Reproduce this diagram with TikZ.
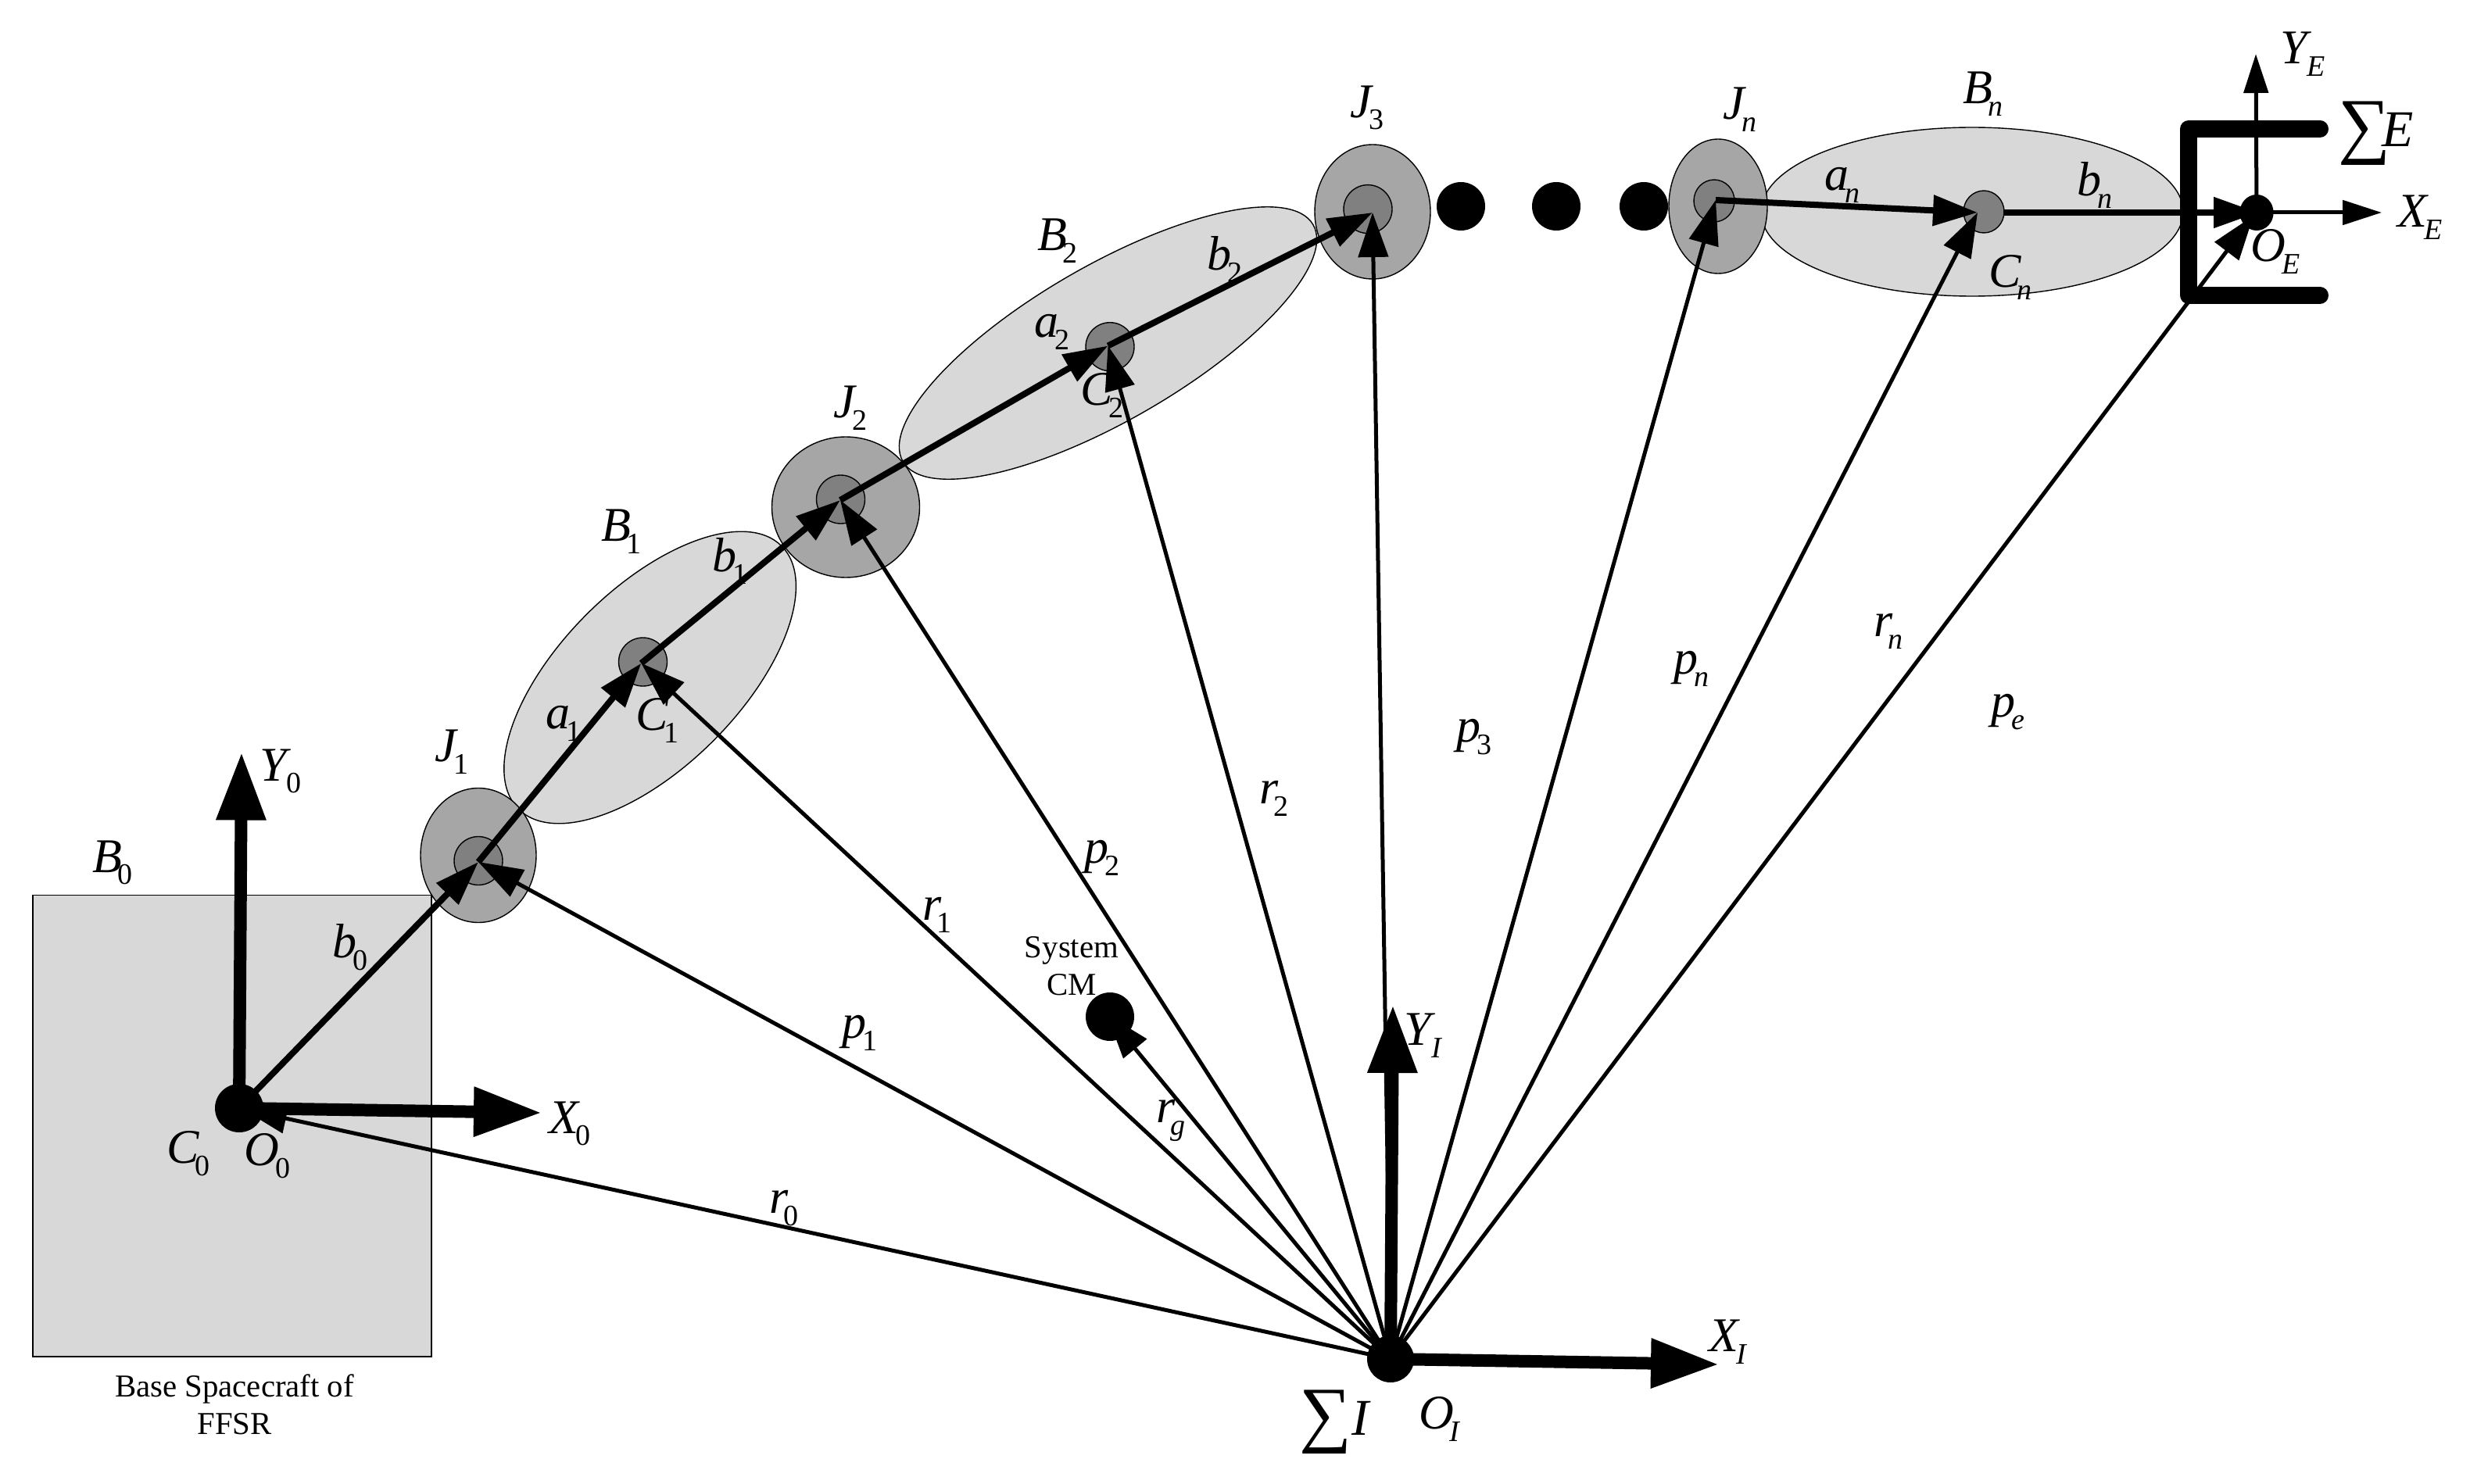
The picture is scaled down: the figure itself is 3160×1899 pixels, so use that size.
\documentclass[tikz,border=0pt]{standalone}
\usepackage{fontspec}
\setmainfont{Liberation Serif}
\usetikzlibrary{shapes.geometric,arrows.meta}
\definecolor{bodygrey}{HTML}{D8D8D8}
\definecolor{jointgrey}{HTML}{A6A6A6}
\definecolor{coregrey}{HTML}{808080}
\newcommand{\lbl}[2]{{\fontsize{31}{31}\selectfont\textit{#1}\kern-0.09em\raisebox{-0.25em}{\fontsize{19}{19}\selectfont #2}}}
\newcommand{\ii}[1]{\textit{#1}}
\tikzset{
  bodyshape/.style={ellipse,draw=black,line width=.7pt,fill=bodygrey,inner sep=0pt},
  jointshape/.style={ellipse,draw=black,line width=.7pt,fill=jointgrey,inner sep=0pt},
  coreshape/.style={ellipse,draw=black,line width=.7pt,fill=coregrey,inner sep=0pt},
  dotshape/.style={ellipse,fill=black,inner sep=0pt},
  txt/.style={inner sep=0pt,align=center},
  caption/.style={inner sep=0pt,align=center,font=\fontsize{20.4}{24}\selectfont},
  radial/.style={line width=2.5pt,-{Triangle[length=28.5pt,width=19pt]}},
  linkvec/.style={line width=4pt,-{Triangle[length=28.5pt,width=19pt]}},
  bigaxis/.style={line width=8pt,-{Triangle[length=43.5pt,width=30pt]}},
  smallaxis/.style={line width=2.5pt,-{Triangle[length=25pt,width=15.5pt]}}
}
\begin{document}
\begin{tikzpicture}[x=0.5pt,y=-0.5pt]
\useasboundingbox (0,0) rectangle (3160,1899);
% base
\node[draw=black,line width=.7pt,fill=bodygrey,minimum width=255pt,minimum height=295.25pt,inner sep=0pt] (base) at (297,1440.75) {};
% links
\node[bodyshape,minimum width=238pt,minimum height=114.5pt,rotate=45] (B1) at (831.6,867) {};
\node[bodyshape,minimum width=303pt,minimum height=99.3pt,rotate=30] (B2) at (1417.5,439) {};
\node[bodyshape,minimum width=270pt,minimum height=108pt] (Bn) at (2523,271) {};
% joints
\node[jointshape,minimum width=74pt,minimum height=86pt] (J1) at (612,1094.5) {};
\node[jointshape,minimum width=94.5pt,minimum height=90pt] (J2) at (1082,649) {};
\node[jointshape,minimum width=74pt,minimum height=86pt] (J3) at (1756,271) {};
\node[jointshape,minimum width=63pt,minimum height=86pt] (Jn) at (2198,264) {};
% cores
\node[coreshape,minimum width=31pt,minimum height=31pt] (J1c) at (612,1101.5) {};
\node[coreshape,minimum width=31pt,minimum height=31pt] (J2c) at (1075.5,639) {};
\node[coreshape,minimum width=31pt,minimum height=31pt] (J3c) at (1750,267.6) {};
\node[coreshape,minimum width=26pt,minimum height=27pt] (Jnc) at (2193,257) {};
\node[coreshape,minimum width=31pt,minimum height=31pt] (C1) at (822.5,847) {};
\node[coreshape,minimum width=31pt,minimum height=31pt] (C2) at (1420,443.7) {};
\node[coreshape,minimum width=26pt,minimum height=27pt] (Cn) at (2538,271) {};
% tips and free ends
\coordinate (tJ1) at (612,1103);
\coordinate (tJ2) at (1075,640);
\coordinate (tJ3) at (1756,272);
\coordinate (tJn) at (2195,256);
\coordinate (tC1) at (820.4,848.7);
\coordinate (tC2) at (1417.5,442.5);
\coordinate (tCn) at (2530,272);
\coordinate (sCn) at (2563,272);
\coordinate (tE) at (2889,272);
\coordinate (tOE) at (2883,276);
\coordinate (tO0) at (310,1419);
\coordinate (tCM) at (1416,1298);
\coordinate (tY0) at (309,962.5);
\coordinate (tX0) at (693,1424);
\coordinate (tYI) at (1782,1286);
\coordinate (tXI) at (2199,1746);
\coordinate (tYE) at (2886,69);
\coordinate (tXE) at (3047,272);
\coordinate (OEc) at (2887,272);
\coordinate (O0c) at (306,1418);
\coordinate (OIc) at (1779,1739);
% link vectors
\draw[linkvec] (O0c) -- (tJ1);
\draw[linkvec] (tJ1) -- (tC1);
\draw[linkvec] (tC1) -- (tJ2);
\draw[linkvec] (tJ2) -- (tC2);
\draw[linkvec] (tC2) -- (tJ3);
\draw[linkvec] (tJn) -- (tCn);
\draw[linkvec] (sCn) -- (tE);
% radial vectors
\draw[radial] (OIc) -- (tO0);
\draw[radial] (OIc) -- (tJ1);
\draw[radial] (OIc) -- (tC1);
\draw[radial] (OIc) -- (tJ2);
\draw[radial] (OIc) -- (tC2);
\draw[radial] (OIc) -- (tJ3);
\draw[radial] (OIc) -- (tJn);
\draw[radial] (OIc) -- (tCn);
\draw[radial] (OIc) -- (tOE);
\draw[radial] (OIc) -- (tCM);
% axes
\draw[bigaxis] (O0c) -- (tY0);
\draw[bigaxis] (O0c) -- (tX0);
\draw[bigaxis] (OIc) -- (tYI);
\draw[bigaxis] (OIc) -- (tXI);
\draw[smallaxis] (OEc) -- (tYE);
\draw[smallaxis] (OEc) -- (tXE);
% gripper
\draw[line width=11pt,line cap=round,line join=round] (2968,165) -- (2800,165) -- (2800,378) -- (2968,378);
% dots
\node[dotshape,minimum width=31pt,minimum height=31pt] (O0) at (O0c) {};
\node[dotshape,minimum width=30pt,minimum height=30pt] (OI) at (OIc) {};
\node[dotshape,minimum width=21.6pt,minimum height=23pt] (OE) at (OEc) {};
\node[dotshape,minimum width=31pt,minimum height=31pt] (CM) at (1420,1301) {};
\node[dotshape,minimum width=31pt,minimum height=31pt] (d1) at (1869,264) {};
\node[dotshape,minimum width=31pt,minimum height=31pt] (d2) at (1991,264) {};
\node[dotshape,minimum width=31pt,minimum height=31pt] (d3) at (2103,264) {};
% labels
\node[txt] (lB0) at (144,1104) {\lbl{B}{0}};
\node[txt] (lY0) at (359,987) {\lbl{Y}{0}};
\node[txt] (lJ1) at (578,962) {\lbl{J}{1}};
\node[txt] (lb0) at (448,1212) {\lbl{b}{0}};
\node[txt] (lX0) at (729,1438) {\lbl{X}{0}};
\node[txt] (lC0) at (241,1476) {\lbl{C}{0}};
\node[txt] (lO0) at (342,1479) {\lbl{O}{0}};
\node[caption] (cap) at (300,1797) {Base Spacecraft of\\FFSR};
\node[txt] (lB1) at (795,680) {\lbl{B}{1}};
\node[txt] (lb1) at (934,718) {\lbl{b}{1}};
\node[txt] (la1) at (721,926) {\lbl{a}{1}};
\node[txt] (lC1) at (841,922) {\lbl{C}{1}};
\node[txt] (lJ2) at (1088,522) {\lbl{J}{2}};
\node[txt] (lB2) at (1353,308) {\lbl{B}{2}};
\node[txt] (lb2) at (1567,332) {\lbl{b}{2}};
\node[txt] (la2) at (1346,425) {\lbl{a}{2}};
\node[txt] (lC2) at (1410,506) {\lbl{C}{2}};
\node[txt] (lJ3) at (1749,138) {\lbl{J}{3}};
\node[txt] (lJn) at (2226,140) {\lbl{J}{\ii{n}}};
\node[txt] (lBn) at (2537,120) {\lbl{B}{\ii{n}}};
\node[txt] (lan) at (2357,237) {\lbl{a}{\ii{n}}};
\node[txt] (lbn) at (2680,237) {\lbl{b}{\ii{n}}};
\node[txt] (lCn) at (2572,355) {\lbl{C}{\ii{n}}};
\node[txt] (lOE) at (2911,322) {\lbl{O}{\ii{E}}};
\node[txt] (lYE) at (2946,69) {\lbl{Y}{\ii{E}}};
\node[txt] (lXE) at (3096,278) {\lbl{X}{\ii{E}}};
\node[txt,font=\fontsize{47}{47}\selectfont] (sE) at (3025,171) {∑};
\node[txt,font=\fontsize{33}{33}\selectfont\itshape] (sEl) at (3068,166) {E};
\node[txt,font=\fontsize{47}{47}\selectfont] (sI) at (1696,1820) {∑};
\node[txt,font=\fontsize{33}{33}\selectfont\itshape] (sIl) at (1740,1815) {I};
\node[txt] (lYI) at (1821,1325) {\lbl{Y}{\ii{I}}};
\node[txt] (lXI) at (2211,1717) {\lbl{X}{\ii{I}}};
\node[txt] (lOI) at (1842,1816) {\lbl{O}{\ii{I}}};
\node[txt] (lrg) at (1498,1434) {\lbl{r}{\ii{g}}};
\node[caption] (sys) at (1371,1236) {System\\CM};
\node[txt] (lr0) at (1003,1546) {\lbl{r}{0}};
\node[txt] (lp1) at (1100,1322) {\lbl{p}{1}};
\node[txt] (lr1) at (1199,1171) {\lbl{r}{1}};
\node[txt] (lp2) at (1410,1098) {\lbl{p}{2}};
\node[txt] (lr2) at (1630,1022) {\lbl{r}{2}};
\node[txt] (lp3) at (1886,943) {\lbl{p}{3}};
\node[txt] (lpn) at (2164,856) {\lbl{p}{\ii{n}}};
\node[txt] (lrn) at (2416,808) {\lbl{r}{\ii{n}}};
\node[txt] (lpe) at (2569,911) {\lbl{p}{\ii{e}}};
\end{tikzpicture}
\end{document}
